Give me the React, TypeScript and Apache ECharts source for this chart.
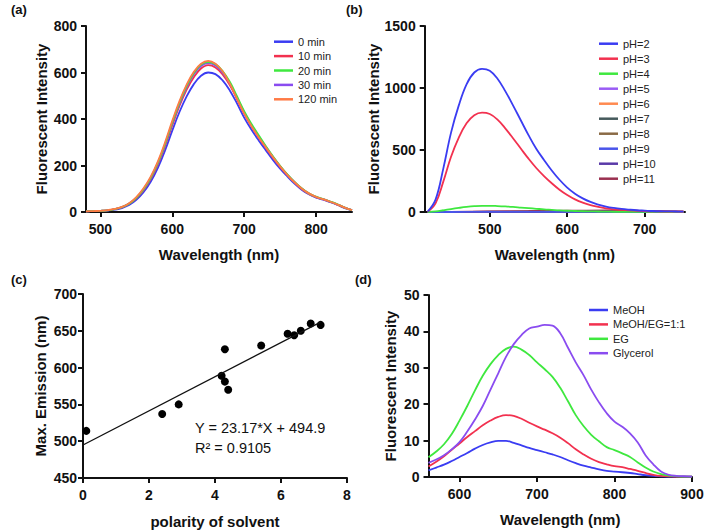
import React, { useEffect, useRef } from 'react';
import * as echarts from 'echarts';

// ---------- Panel (a): time series ----------
const wlA = [480, 490, 500, 510, 520, 530, 540, 550, 560, 570, 580, 590, 600, 610, 620, 630, 640, 650, 660, 670, 680, 690, 700, 710, 720, 730, 740, 750, 760, 770, 780, 790, 800, 810, 820, 830, 840, 850];
const a0min = [3, 4, 5, 6, 10, 17, 30, 52, 85, 130, 190, 265, 350, 430, 497, 550, 586, 600, 593, 566, 523, 467, 406, 355, 309, 266, 224, 186, 153, 122, 96, 76, 62, 53, 42, 30, 17, 7];
const a10min = [3, 4, 5, 7, 12, 20, 35, 59, 94, 142, 205, 284, 373, 456, 526, 580, 617, 632, 622, 592, 546, 486, 423, 370, 322, 277, 234, 194, 159, 127, 99, 78, 64, 54, 43, 31, 18, 8];
const a20min = [3, 4, 5, 7, 12, 21, 36, 61, 98, 147, 212, 293, 385, 470, 542, 598, 634, 645, 636, 606, 560, 498, 434, 380, 331, 284, 240, 199, 162, 130, 102, 80, 66, 56, 45, 33, 19, 8];
const a30min = [3, 4, 5, 7, 12, 21, 36, 61, 97, 146, 210, 290, 381, 465, 536, 592, 628, 640, 630, 599, 553, 492, 429, 375, 327, 281, 237, 197, 161, 129, 101, 79, 65, 55, 44, 32, 19, 8];
const a120min = [3, 4, 5, 8, 13, 22, 38, 64, 102, 152, 218, 300, 392, 477, 548, 603, 638, 650, 638, 605, 552, 488, 424, 370, 322, 279, 236, 196, 160, 128, 101, 80, 65, 55, 44, 32, 19, 8];
const namesA = ['0 min', '10 min', '20 min', '30 min', '120 min'];
const colorsA = ['#3a3cf2', '#f2314f', '#3fe83f', '#8a4cf0', '#ff7a45'];
const ticksAx = [500, 600, 700, 800];

// ---------- Panel (b): pH series ----------
const wlB = [420, 430, 440, 450, 460, 470, 480, 490, 500, 510, 520, 530, 540, 550, 560, 570, 580, 590, 600, 610, 620, 630, 640, 650, 660, 670, 680, 690, 700, 710, 720, 730, 740, 750];
const pH2 = [5, 100, 350, 640, 860, 1030, 1125, 1155, 1140, 1075, 975, 860, 740, 620, 510, 420, 335, 260, 197, 148, 110, 81, 60, 44, 33, 25, 19, 14, 11, 8, 6, 5, 4, 3];
const pH3 = [3, 70, 245, 445, 600, 715, 780, 801, 790, 745, 675, 595, 512, 430, 355, 290, 232, 180, 137, 102, 75, 55, 41, 30, 22, 17, 13, 10, 7, 5, 4, 3, 3, 2];
const pH4 = [0, 5, 14, 24, 33, 41, 47, 50, 50, 48, 45, 41, 36, 31, 26, 21, 17, 13, 10, 8, 6, 5, 4, 3, 2, 2, 1, 1, 1, 1, 0, 0, 0, 0];
const wlBLow = [420, 450, 500, 550, 600, 650, 700, 750];
const pH5 = [0, 1, 2, 2, 2, 2, 1, 1];
const pH6 = [0, 1, 2, 3, 3, 3, 2, 1];
const pH7 = [0, 1, 1, 2, 3, 3, 2, 1];
const pH8 = [0, 1, 2, 4, 7, 8, 5, 2];
const pH9 = [0, 0, 1, 1, 2, 2, 1, 1];
const pH10 = [0, 1, 2, 3, 5, 6, 4, 2];
const pH11 = [0, 1, 3, 6, 10, 12, 8, 3];
const namesB = ['pH=2', 'pH=3', 'pH=4', 'pH=5', 'pH=6', 'pH=7', 'pH=8', 'pH=9', 'pH=10', 'pH=11'];
const colorsB = ['#3a3cf2', '#f2314f', '#3fe83f', '#9a5cf5', '#ff8a50', '#465a5c', '#8a6a45', '#4a55ea', '#5a3aa8', '#9a3050'];
const ticksBx = [500, 600, 700];

// ---------- Panel (c): scatter + fit ----------
const polarity = [0.1, 2.4, 2.9, 4.2, 4.3, 4.4, 4.3, 5.4, 6.2, 6.4, 6.6, 6.9, 7.2];
const maxEmission = [514, 537, 550, 589, 581, 570, 625, 630, 646, 644, 650, 660, 658];
const fitSlope = 23.17;
const fitIntercept = 494.9;
const fitRange = [0, 7.2];
const fitText = 'Y = 23.17*X + 494.9';
const r2Text = 'R² = 0.9105';

// ---------- Panel (d): solvents ----------
const wlD = [560, 570, 580, 590, 600, 610, 620, 630, 640, 650, 660, 670, 680, 690, 700, 710, 720, 730, 740, 750, 760, 770, 780, 790, 800, 810, 820, 830, 840, 850, 860, 870, 880, 890, 900];
const meoh = [1.8, 2.6, 3.4, 4.4, 5.5, 6.6, 7.8, 8.8, 9.5, 9.9, 9.9, 9.4, 8.7, 8.0, 7.4, 6.8, 6.2, 5.5, 4.6, 3.8, 3.1, 2.6, 2.1, 1.7, 1.5, 1.3, 1.1, 0.8, 0.5, 0.3, 0.2, 0.1, 0.1, 0.1, 0.1];
const meohEg = [2.9, 4.2, 5.7, 7.5, 9.2, 11.0, 12.6, 14.2, 15.5, 16.5, 17.0, 16.8, 16.0, 14.9, 13.9, 13.0, 12.0, 10.8, 9.3, 7.6, 6.2, 5.0, 4.1, 3.5, 3.0, 2.7, 2.2, 1.7, 1.1, 0.6, 0.3, 0.2, 0.1, 0.1, 0.1];
const eg = [5.4, 7.0, 9.0, 11.8, 15.5, 19.5, 23.8, 27.8, 31.0, 33.5, 35.2, 35.8, 35.0, 33.5, 31.5, 29.6, 27.5, 24.5, 20.8, 17.0, 14.0, 11.6, 9.8, 8.2, 7.4, 6.5, 5.5, 4.0, 2.6, 1.5, 0.8, 0.4, 0.2, 0.1, 0.1];
const glycerol = [3.9, 4.8, 6.0, 7.6, 9.6, 12.5, 15.8, 19.5, 24.0, 28.5, 33.0, 36.5, 39.0, 40.8, 41.3, 41.8, 41.6, 39.5, 35.5, 31.5, 28.0, 24.0, 20.5, 17.5, 15.2, 13.8, 12.0, 9.5, 6.0, 3.5, 1.5, 0.6, 0.3, 0.2, 0.1];
const namesD = ['MeOH', 'MeOH/EG=1:1', 'EG', 'Glycerol'];
const colorsD = ['#3a3cf2', '#f2314f', '#3fe83f', '#8a4cf0'];
const ticksDx = [600, 700, 800, 900];

const FONT = '"Liberation Sans", Arial, Helvetica, sans-serif';
const INK = '#111111';

const zip = (xs: number[], ys: number[]) => xs.map((x, i) => [x, ys[i]]);

function axisBase(gridIndex: number, name: string, nameGap: number, margin: number) {
  return {
    gridIndex,
    type: 'value',
    name,
    nameLocation: 'middle',
    nameGap,
    nameTextStyle: { fontFamily: FONT, fontSize: 15, fontWeight: 'bold', color: INK },
    axisLine: { show: true, onZero: false, lineStyle: { color: INK, width: 2 } },
    axisTick: { show: true, inside: false, length: 5, lineStyle: { color: INK, width: 2 } },
    axisLabel: {
      fontFamily: FONT,
      fontSize: 14,
      fontWeight: 'bold',
      color: INK,
      margin,
      formatter: (v: number) => String(v),
    },
    splitLine: { show: false },
  };
}

function xCustom(gridIndex: number, name: string, min: number, max: number, ticks: number[]) {
  const b: any = axisBase(gridIndex, name, 35, 10);
  b.min = min;
  b.max = max;
  b.axisTick = { ...b.axisTick, customValues: ticks };
  b.axisLabel = { ...b.axisLabel, customValues: ticks };
  return b;
}

function lineSeries(name: string, xs: number[], ys: number[], color: string, idx: number) {
  return {
    type: 'line',
    name,
    xAxisIndex: idx,
    yAxisIndex: idx,
    data: zip(xs, ys),
    smooth: 0.4,
    showSymbol: false,
    symbol: 'none',
    color,
    lineStyle: { color, width: 1.8 },
    emphasis: { disabled: true },
  };
}

function legendBox(names: string[], left: number, top: number, gap: number) {
  return {
    orient: 'vertical',
    left,
    top,
    itemWidth: 19,
    itemHeight: 2.5,
    itemGap: gap,
    icon: 'rect',
    selectedMode: false,
    data: names,
    textStyle: { fontFamily: FONT, fontSize: 11, color: '#222', lineHeight: 12 },
  };
}

export default function App() {
  const ref = useRef<HTMLDivElement>(null);
  useEffect(() => {
    document.body.style.margin = '0';
    const chart = echarts.init(ref.current!, null, { renderer: 'svg' });

    const yA: any = { ...axisBase(0, 'Fluorescent Intensity', 37, 9), min: 0, max: 800, interval: 200 };
    const yB: any = { ...axisBase(1, 'Fluorescent Intensity', 40, 9), min: 0, max: 1500, interval: 500 };
    const yC: any = { ...axisBase(2, 'Max. Emission (nm)', 35, 6), min: 450, max: 700, interval: 50 };
    const yD: any = { ...axisBase(3, 'Fluorescent Intensity', 31, 9), min: 0, max: 50, interval: 10 };
    const xC: any = { ...axisBase(2, 'polarity of solvent', 36, 10), min: 0, max: 8, interval: 2 };

    const fitLine = fitRange.map((x) => [x, fitIntercept + fitSlope * x]);

    const option: any = {
      animation: false,
      backgroundColor: '#ffffff',
      grid: [
        { left: 86, top: 26, width: 266, height: 186, outerBoundsMode: 'none' },
        { left: 424.7, top: 26, width: 260.3, height: 186, outerBoundsMode: 'none' },
        { left: 83, top: 294, width: 264, height: 184, outerBoundsMode: 'none' },
        { left: 428.5, top: 295, width: 263.5, height: 182, outerBoundsMode: 'none' },
      ],
      xAxis: [
        xCustom(0, 'Wavelength (nm)', 480, 850, ticksAx),
        xCustom(1, 'Wavelength (nm)', 416, 752, ticksBx),
        xC,
        xCustom(3, 'Wavelength (nm)', 560, 900, ticksDx),
      ],
      yAxis: [yA, yB, yC, yD],
      legend: [
        legendBox(namesA, 269, 30.7, 2.4),
        legendBox(namesB, 594, 32.7, 3),
        legendBox(namesD, 584, 299, 2.4),
      ],
      series: [
        lineSeries(namesA[0], wlA, a0min, colorsA[0], 0),
        lineSeries(namesA[1], wlA, a10min, colorsA[1], 0),
        lineSeries(namesA[3], wlA, a30min, colorsA[3], 0),
        lineSeries(namesA[2], wlA, a20min, colorsA[2], 0),
        lineSeries(namesA[4], wlA, a120min, colorsA[4], 0),

        lineSeries(namesB[3], wlBLow, pH5, colorsB[3], 1),
        lineSeries(namesB[4], wlBLow, pH6, colorsB[4], 1),
        lineSeries(namesB[5], wlBLow, pH7, colorsB[5], 1),
        lineSeries(namesB[6], wlBLow, pH8, colorsB[6], 1),
        lineSeries(namesB[8], wlBLow, pH10, colorsB[8], 1),
        lineSeries(namesB[9], wlBLow, pH11, colorsB[9], 1),
        lineSeries(namesB[7], wlBLow, pH9, colorsB[7], 1),
        lineSeries(namesB[2], wlB, pH4, colorsB[2], 1),
        lineSeries(namesB[1], wlB, pH3, colorsB[1], 1),
        lineSeries(namesB[0], wlB, pH2, colorsB[0], 1),

        {
          type: 'line',
          name: 'fit',
          xAxisIndex: 2,
          yAxisIndex: 2,
          data: fitLine,
          showSymbol: false,
          symbol: 'none',
          lineStyle: { color: INK, width: 1.3 },
          emphasis: { disabled: true },
        },
        {
          type: 'scatter',
          name: 'points',
          xAxisIndex: 2,
          yAxisIndex: 2,
          data: zip(polarity, maxEmission),
          symbol: 'circle',
          symbolSize: 8,
          itemStyle: { color: '#000000', opacity: 1 },
          emphasis: { disabled: true },
        },

        lineSeries(namesD[0], wlD, meoh, colorsD[0], 3),
        lineSeries(namesD[1], wlD, meohEg, colorsD[1], 3),
        lineSeries(namesD[2], wlD, eg, colorsD[2], 3),
        lineSeries(namesD[3], wlD, glycerol, colorsD[3], 3),
      ],
      graphic: [
        { type: 'text', left: 11, top: 3, style: { text: '(a)', font: `bold 13px ${FONT}`, fill: INK } },
        { type: 'text', left: 346, top: 3, style: { text: '(b)', font: `bold 13px ${FONT}`, fill: INK } },
        { type: 'text', left: 11, top: 273, style: { text: '(c)', font: `bold 13px ${FONT}`, fill: INK } },
        { type: 'text', left: 355, top: 273, style: { text: '(d)', font: `bold 13px ${FONT}`, fill: INK } },
        { type: 'text', left: 195, top: 420, style: { text: fitText, font: `14.5px ${FONT}`, fill: INK } },
        { type: 'text', left: 195, top: 440, style: { text: r2Text, font: `14.5px ${FONT}`, fill: INK } },
      ],
    };
    chart.setOption(option);
    return () => chart.dispose();
  }, []);
  return <div ref={ref} style={{ width: 705, height: 531 }} />;
}
